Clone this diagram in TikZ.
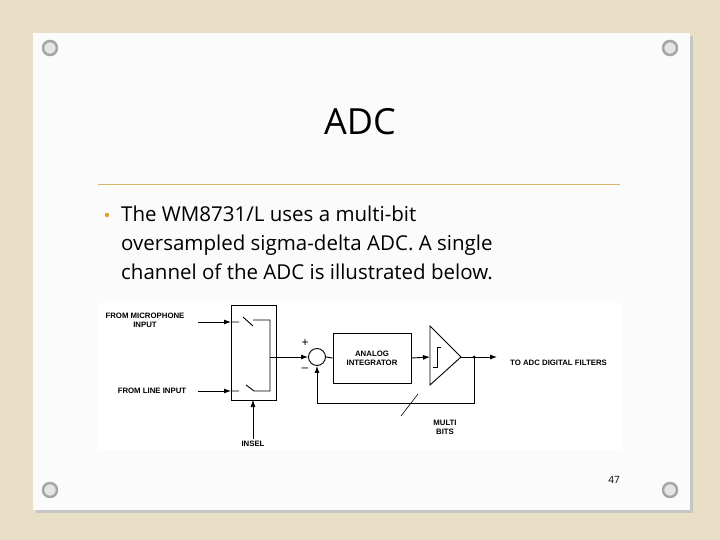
\documentclass[tikz,border=0pt]{standalone}
\usepackage{fontspec}
\setmainfont{Open Sans}
\newfontfamily\lab{Liberation Sans}
\usetikzlibrary{arrows.meta}
\definecolor{bgc}{HTML}{E9DFC6}
\definecolor{gold}{HTML}{D9B56A}
\definecolor{orng}{HTML}{E0A030}
\begin{document}
\begin{tikzpicture}[x=1pt,y=-1pt,
 lbl/.style={font=\lab\bfseries\fontsize{7.8}{9}\selectfont,align=center,inner sep=0pt},
 ln/.style={line width=0.9pt},
 arr/.style={ln,-{Latex[length=7pt,width=5pt]}},
 screw/.style={circle,draw=gray!70,line width=2.5pt,fill=gray!20,minimum size=14pt,inner sep=0pt}]
\fill[bgc] (0,0) rectangle (720,540);
\useasboundingbox (0,0) rectangle (720,540);
\fill[gray!45] (36,36) rectangle (693,513);
\fill[white!97!gray] (33,33) rectangle (690,510);
\node[screw] (s1) at (50,48) {};
\node[screw] (s2) at (670,48) {};
\node[screw] (s3) at (50,490) {};
\node[screw] (s4) at (670,490) {};
\node[font=\fontsize{36}{40}\selectfont] (title) at (360,122) {ADC};
\draw[gold,line width=1pt] (98,185) -- (620,185);
\fill[orng] (107,215) circle (2.2);
\node[anchor=west,align=left,inner sep=0pt,font=\fontsize{20.5}{29}\selectfont] (txt) at (121,243) {The WM8731/L uses a multi-bit\\ oversampled sigma-delta ADC. A single\\ channel of the ADC is illustrated below.};
\fill[white] (98,303) rectangle (622,450);
% mux
\draw[ln] (231,305) rectangle (276,400);
\node[lbl] (mic) at (145,320) {FROM MICROPHONE\\INPUT};
\node[lbl] (line) at (152,391) {FROM LINE INPUT};
\coordinate (m1) at (198,322); \coordinate (m2) at (231,322);
\coordinate (l1) at (198,391); \coordinate (l2) at (231,391);
\draw[arr] (m1) -- (m2);
\draw[arr] (l1) -- (l2);
\draw[ln] (231,322) -- (239,322) (243,317) -- (253,326) (253,320) -- (270,320) -- (270,391) -- (254,391) -- (246,385) (239,391) -- (231,391);
% summer
\node[circle,draw,line width=0.9pt,minimum size=17pt,inner sep=0pt] (sum) at (317,357) {};
\draw[arr] (270,357) -- (sum.west);
\node[font=\lab\fontsize{12}{12}\selectfont] (plus) at (305,343) {+};
\node[font=\lab\fontsize{12}{12}\selectfont] (minus) at (305,370) {\textendash};
\node[draw,line width=0.9pt,minimum width=78pt,minimum height=50pt,lbl] (int) at (372,358) {ANALOG\\INTEGRATOR};
\draw[ln] (sum.east) -- (int.west);
\coordinate (t1) at (430,326); \coordinate (t2) at (430,385); \coordinate (t3) at (461,357);
\draw[ln] (t1) -- (t2) -- (t3) -- cycle;
\draw[line width=0.6pt] (433,367) -- (437,367) -- (437,347) -- (441,347);
\draw[arr] (int.east) -- (430,357);
\coordinate (dot) at (474,357);
\coordinate (out) at (497,357);
\draw[arr] (t3) -- (out);
\fill (dot) circle (1.5);
\draw[arr] (dot) -- (474,403) -- (317,403) -- (sum.south);
\draw[line width=0.6pt] (401,416) -- (418,394);
\node[lbl] (mb) at (445,427) {MULTI\\BITS};
\node[lbl,anchor=west] (to) at (510,363) {TO ADC DIGITAL FILTERS};
\node[lbl] (insel) at (253,444) {INSEL};
\draw[arr,line width=0.6pt] (insel.north) ++(0,-2) -- (253,400);
\node[font=\fontsize{10}{11}\selectfont] (pg) at (614,480) {47};
\end{tikzpicture}
\end{document}
